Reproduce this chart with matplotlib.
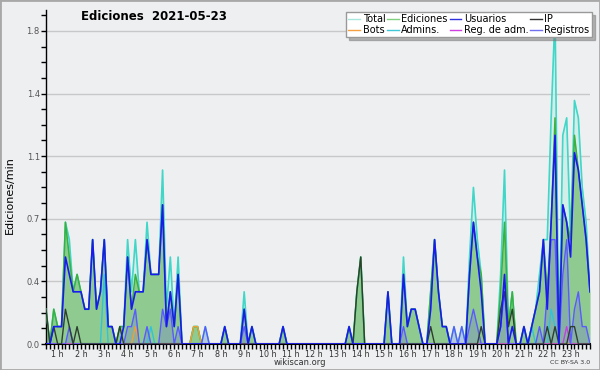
import matplotlib
matplotlib.use("Agg")
import matplotlib.pyplot as plt
from matplotlib.lines import Line2D
from matplotlib.patches import Rectangle
from matplotlib.ticker import MultipleLocator, FixedLocator, FormatStrFormatter
import numpy as np

# edits per minute, one value every 10 minutes, from 00:30 to 23:50
total = [
    .2, 0, .2, .1, .1, .7,
    .6, .3, .4, .3, .2, .2,
    .6, .2, .3, .6, .1, .1,
    0, .1, .1, .6, .3, .6,
    .3, .3, .7, .4, .4, .4,
    1.0, .2, .5, .1, .5, 0,
    0, 0, .1, .1, 0, .1,
    0, 0, 0, 0, .1, 0,
    0, 0, 0, .3, 0, .1,
    0, 0, 0, 0, 0, 0,
    0, .1, 0, 0, 0, 0,
    0, 0, 0, 0, 0, 0,
    0, 0, 0, 0, 0, 0,
    .1, 0, .3, .5, 0, 0,
    0, 0, 0, 0, .3, 0,
    0, 0, .5, .1, .2, .2,
    .1, 0, 0, .3, .6, .3,
    .1, .1, 0, .1, 0, .1,
    0, .5, .9, .6, .4, 0,
    0, 0, 0, .4, 1.0, .1,
    .3, 0, 0, .1, 0, .1,
    .2, .4, .6, .6, 1.3, 1.9,
    0, 1.2, 1.3, .6, 1.4, 1.3,
    .9, .7, .3,
]
ediciones = [
    .2, 0, .2, .1, .1, .7,
    .5, .3, .4, .3, .2, .2,
    .6, .2, .3, .6, .1, .1,
    0, .1, .1, .5, .2, .4,
    .3, .3, .6, .4, .4, .4,
    .8, .1, .3, .1, .4, 0,
    0, 0, .1, .1, 0, 0,
    0, 0, 0, 0, .1, 0,
    0, 0, 0, .2, 0, .1,
    0, 0, 0, 0, 0, 0,
    0, .1, 0, 0, 0, 0,
    0, 0, 0, 0, 0, 0,
    0, 0, 0, 0, 0, 0,
    .1, 0, .3, .5, 0, 0,
    0, 0, 0, 0, .3, 0,
    0, 0, .4, .1, .2, .2,
    .1, 0, 0, .3, .6, .3,
    .1, .1, 0, 0, 0, 0,
    0, .4, .7, .5, .4, 0,
    0, 0, 0, .3, .7, .1,
    .3, 0, 0, .1, 0, .1,
    .2, .3, .6, .3, .7, 1.3,
    0, .8, .7, .6, 1.2, 1.0,
    .8, .6, .3,
]
usuarios = [
    0, 0, .1, .1, .1, .5,
    .4, .3, .3, .3, .2, .2,
    .6, .2, .3, .6, .1, .1,
    0, 0, .1, .5, .2, .3,
    .3, .3, .6, .4, .4, .4,
    .8, .1, .3, .1, .4, 0,
    0, 0, 0, 0, 0, 0,
    0, 0, 0, 0, .1, 0,
    0, 0, 0, .2, 0, .1,
    0, 0, 0, 0, 0, 0,
    0, .1, 0, 0, 0, 0,
    0, 0, 0, 0, 0, 0,
    0, 0, 0, 0, 0, 0,
    .1, 0, 0, 0, 0, 0,
    0, 0, 0, 0, .3, 0,
    0, 0, .4, .1, .2, .2,
    .1, 0, 0, .2, .6, .3,
    .1, .1, 0, 0, 0, 0,
    0, .4, .7, .5, .3, 0,
    0, 0, 0, .1, .4, 0,
    .1, 0, 0, .1, 0, .1,
    .2, .3, .6, .2, .7, 1.2,
    0, .8, .7, .5, 1.1, 1.0,
    .8, .6, .3,
]
ip = [
    .2, 0, .1, 0, 0, .2,
    .1, 0, .1, 0, 0, 0,
    0, 0, 0, 0, 0, 0,
    0, .1, 0, 0, 0, 0,
    0, 0, 0, 0, 0, 0,
    0, 0, 0, 0, 0, 0,
    0, 0, 0, 0, 0, 0,
    0, 0, 0, 0, 0, 0,
    0, 0, 0, 0, 0, 0,
    0, 0, 0, 0, 0, 0,
    0, 0, 0, 0, 0, 0,
    0, 0, 0, 0, 0, 0,
    0, 0, 0, 0, 0, 0,
    0, 0, .3, .5, 0, 0,
    0, 0, 0, 0, 0, 0,
    0, 0, 0, 0, 0, 0,
    0, 0, 0, .1, 0, 0,
    0, 0, 0, 0, 0, 0,
    0, 0, 0, 0, .1, 0,
    0, 0, 0, .2, .3, .1,
    .2, 0, 0, 0, 0, 0,
    0, 0, 0, .1, 0, .1,
    0, 0, 0, .1, .1, 0,
    0, 0, 0,
]
registros = [
    0, 0, 0, 0, 0, 0,
    .1, 0, 0, 0, 0, 0,
    0, 0, 0, 0, 0, 0,
    0, 0, 0, .1, .1, .2,
    0, 0, .1, 0, 0, 0,
    .2, .1, .2, 0, .1, 0,
    0, 0, 0, 0, 0, .1,
    0, 0, 0, 0, 0, 0,
    0, 0, 0, .1, 0, 0,
    0, 0, 0, 0, 0, 0,
    0, 0, 0, 0, 0, 0,
    0, 0, 0, 0, 0, 0,
    0, 0, 0, 0, 0, 0,
    0, 0, 0, 0, 0, 0,
    0, 0, 0, 0, 0, 0,
    0, 0, .1, 0, 0, 0,
    0, 0, 0, 0, 0, 0,
    0, 0, 0, .1, 0, .1,
    0, .1, .2, .1, 0, 0,
    0, 0, 0, .1, .3, 0,
    0, 0, 0, 0, 0, 0,
    0, .1, 0, .3, .6, .6,
    0, .4, .6, 0, .2, .3,
    .1, .1, 0,
]
# sparse series: time -> edits per minute
bots = {"04:20": .1, "06:50": .1, "07:00": .1}
admins = {"03:00": .4, "05:00": .1, "21:20": .1, "22:10": .2, "22:20": .1}
reg_adm = {"22:50": .1}

hours = list(range(1, 24))
hour_labels = [f"{h} h" for h in hours]

t = 0.5 + np.arange(len(total)) / 6.0


def expand(sparse):
    vals = np.zeros(len(t))
    for key, v in sparse.items():
        hh, mm = key.split(":")
        vals[int(round((int(hh) + int(mm) / 60.0 - 0.5) * 6))] = v
    return vals


bg = "#eeeff1"
fig = plt.figure(figsize=(6, 3.7), dpi=100, facecolor=bg)
ax = fig.add_axes([46 / 600, 26 / 370, 544 / 600, 334 / 370])
ax.set_facecolor(bg)

# filled areas
ax.fill_between(t, total, color="#cdeee8", alpha=0.8, lw=0, zorder=1)
ax.fill_between(t, ediciones, color="#8cc98c", alpha=0.95, lw=0, zorder=2)
ax.fill_between(t, registros, color="#7474d8", alpha=0.3, lw=0, zorder=3)

# lines
ax.plot(t, total, color="#40d6c8", lw=1.2, zorder=4)
ax.plot(t, ediciones, color="#3cb03c", lw=1.1, zorder=5)
ax.plot(t, expand(admins), color="#30c4d8", lw=1, zorder=5)
ax.plot(t, expand(bots), color="#f0a030", lw=1, zorder=5)
ax.plot(t, expand(reg_adm), color="#c040e0", lw=1, zorder=5)
ax.plot(t, registros, color="#5a5aff", lw=1, zorder=6)
ax.plot(t, ip, color="#2f3f2f", lw=1, zorder=7)
ax.plot(t, usuarios, color="#1a1aee", lw=1.2, zorder=8)

ax.set_xlim(t[0], t[-1])
ax.set_ylim(0, 1.92)

ax.yaxis.set_major_locator(MultipleLocator(0.36))
ax.yaxis.set_minor_locator(MultipleLocator(0.09))
ax.yaxis.set_major_formatter(FormatStrFormatter("%.1f"))
ax.xaxis.set_major_locator(FixedLocator(hours))
ax.set_xticklabels(hour_labels)
ax.xaxis.set_minor_locator(MultipleLocator(1 / 6))

ax.tick_params(axis="both", which="both", direction="out", length=3.5, width=1,
               color="black", labelcolor="#333333")
ax.tick_params(axis="x", which="major", labelsize=5.8, pad=0.5)
ax.tick_params(axis="y", which="major", labelsize=6, pad=1, labelcolor="#555555")
ax.yaxis.grid(True, color="#c8c8c8", lw=1)
ax.set_axisbelow(True)

for side in ("top", "right"):
    ax.spines[side].set_visible(False)
ax.spines["left"].set_linewidth(1)
ax.spines["bottom"].set_linewidth(1.5)

fig.text(10 / 600, 1 - 195 / 370, "Ediciones/min", rotation=90, ha="center",
         va="center", fontsize=8)
fig.text(154 / 600, 1 - 17 / 370, "Ediciones  2021-05-23", ha="center",
         va="center", fontsize=8.5, fontweight="bold")
fig.text(300 / 600, 1 - 362.5 / 370, "wikiscan.org", ha="center", va="center",
         fontsize=6, color="#333333")
fig.text(590 / 600, 1 - 363 / 370, "CC BY-SA 3.0", ha="right", va="center",
         fontsize=4.5, color="#333333")

legend_items = [
    ("Total", "#a8e6de"), ("Bots", "#f5a040"),
    ("Ediciones", "#80d080"), ("Admins.", "#40c8d8"),
    ("Usuarios", "#3030e0"), ("Reg. de adm.", "#d040e0"),
    ("IP", "#333333"), ("Registros", "#7070f0"),
]
handles = [Line2D([], [], color=c, lw=1) for _, c in legend_items]
leg = ax.legend(handles, [n for n, _ in legend_items], ncol=4, loc="upper right",
                bbox_to_anchor=(592 / 600, 1 - 12 / 370),
                bbox_transform=fig.transFigure, fontsize=7, frameon=True,
                fancybox=False, framealpha=1, edgecolor="#999999",
                shadow={"ox": 2.2, "oy": -2.2, "color": "#777777"},
                borderpad=0.25, labelspacing=0.05, handlelength=1.2,
                handletextpad=0.25, columnspacing=0.2, borderaxespad=0)
leg.set_zorder(20)

fig.patches.append(Rectangle((0, 0), 1, 1, transform=fig.transFigure,
                             fill=False, edgecolor="#a8a8a8", lw=2))

fig.savefig("out.png", dpi=100, facecolor=bg)
